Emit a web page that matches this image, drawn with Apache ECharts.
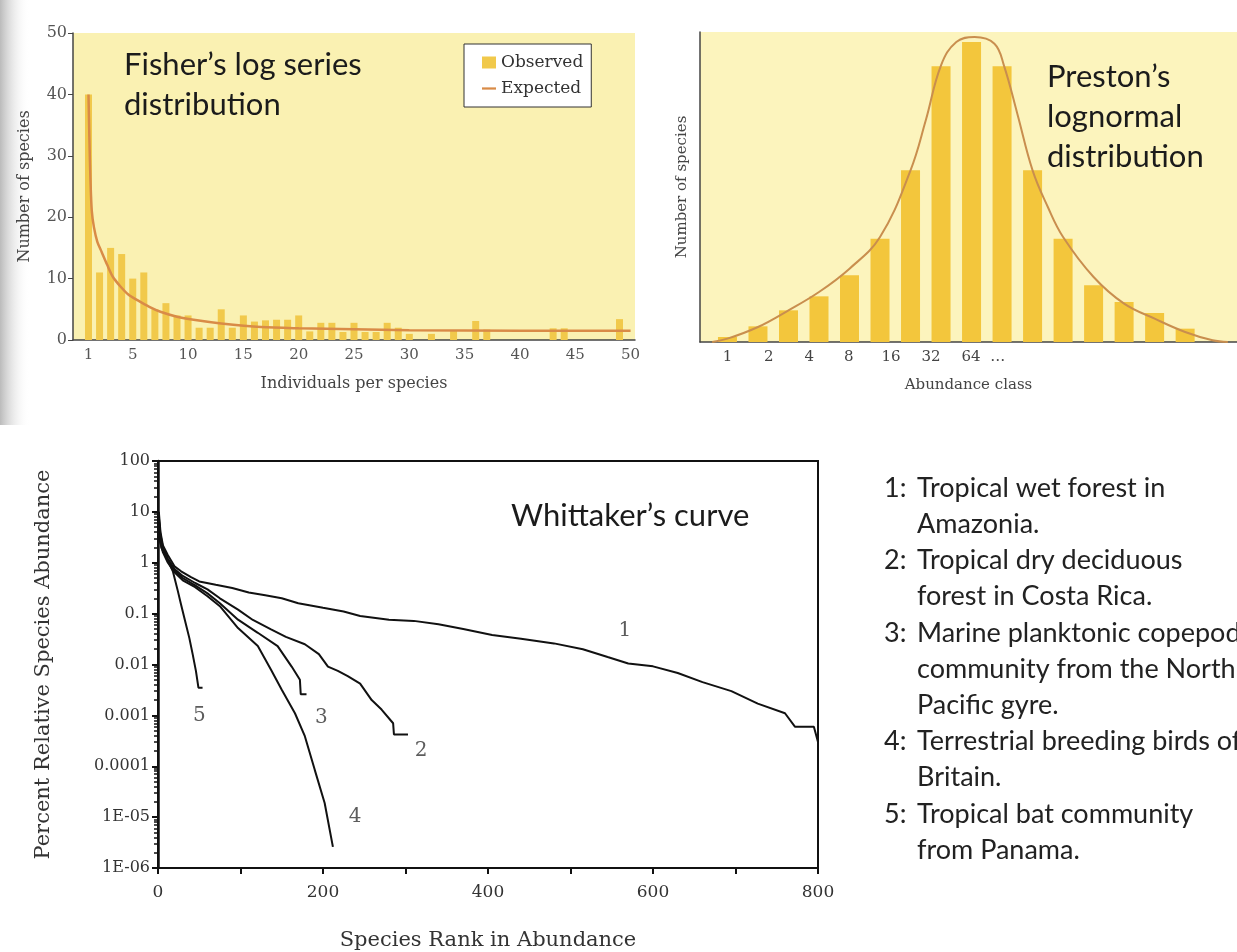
<!DOCTYPE html>
<html>
<head>
<meta charset="utf-8">
<title>Species abundance models</title>
<script src="https://cdn.jsdelivr.net/npm/echarts@6/dist/echarts.min.js"></script>
<style>
  html, body { margin: 0; padding: 0; background: #fff; }
  #main { width: 1237px; height: 952px; }
</style>
</head>
<body>
<div id="main"></div>
<script>
// ---- Fisher's log series ----
var fisherTicks = [1, 5, 10, 15, 20, 25, 30, 35, 40, 45, 50];
// number of species with 1..50 individuals
var fisherObserved = [40, 11, 15, 14, 10, 11, 5, 6, 4, 4,
                      2, 2, 5, 2, 4, 3, 3.2, 3.3, 3.3, 4,
                      1.4, 2.8, 2.8, 1.3, 2.8, 1.3, 1.3, 2.8, 2, 1,
                      0, 1, 0, 1.5, 0, 3.1, 1.7, 0, 0, 0,
                      0, 0, 1.9, 1.9, 0, 0, 0, 0, 3.4, 0];
var fisherExpectedX = [1, 1.08, 1.18, 1.3, 1.5, 1.8, 2.2, 2.7, 3.2, 3.8, 4.6, 5.5, 6.5, 7.5, 9, 10.5, 13, 16.6, 20, 25, 30, 40, 50];
var fisherExpectedY = [40, 33, 26, 21, 18.3, 16, 14.3, 12.2, 10.3, 8.9, 7.4, 6.4, 5.4, 4.6, 3.8, 3.3, 2.7, 2.1, 1.9, 1.75, 1.6, 1.5, 1.5];

// ---- Preston's lognormal ----
var prestonBars = [1.5, 4.7, 9.5, 13.7, 20, 31, 51.5, 82.7, 90, 82.7, 51.5, 31, 17, 12, 8.7, 4];
var prestonCurveX = [-0.5, 0, 1, 2, 3, 4, 5, 6, 6.5, 7, 7.5, 8.1, 8.75, 9.06, 9.5, 10, 10.5, 11, 12, 13, 14, 15, 15.9, 16.4];
var prestonCurveY = [0, 1, 4.5, 9.5, 15, 22, 31.5, 51.5, 66.5, 83, 90, 91.5, 89.5, 83, 68.5, 51.5, 40.5, 31.5, 19.5, 11.5, 7, 3, 0.5, 0];
var prestonTickPos = [0, 1.35, 2.68, 3.98, 5.36, 6.67, 7.98, 8.86];
var prestonTickLabels = ['1', '2', '4', '8', '16', '32', '64', '…'];

// ---- Whittaker's rank-abundance curves ----
var whittaker1 = [[1, 10], [3, 4], [6, 2.2], [12, 1.4], [20, 0.85], [28, 0.68], [40, 0.52], [50, 0.43], [70, 0.37],
  [90, 0.32], [110, 0.26], [130, 0.23], [150, 0.2], [170, 0.16], [200, 0.13], [225, 0.11], [245, 0.09],
  [280, 0.076], [310, 0.072], [340, 0.062], [370, 0.05], [405, 0.038], [440, 0.032], [480, 0.026],
  [515, 0.02], [545, 0.014], [570, 0.0105], [600, 0.0092], [630, 0.0068], [660, 0.0045], [695, 0.003],
  [727, 0.0017], [760, 0.0011], [772, 0.0006], [795, 0.0006], [800, 0.0003]];
var whittaker2 = [[1, 8], [3, 3.5], [6, 2], [12, 1.2], [20, 0.75], [30, 0.55], [45, 0.4], [60, 0.3], [75, 0.2],
  [97, 0.12], [115, 0.075], [137, 0.049], [155, 0.035], [178, 0.025], [195, 0.016], [206, 0.0091],
  [218, 0.0075], [230, 0.0059], [245, 0.0042], [259, 0.002], [271, 0.0013], [285, 0.0007],
  [286, 0.00042], [303, 0.00042]];
var whittaker3 = [[1, 5], [3, 2.8], [6, 1.8], [12, 1.1], [20, 0.7], [30, 0.5], [45, 0.36], [60, 0.25], [75, 0.16],
  [97, 0.076], [121, 0.042], [145, 0.023], [162, 0.0091], [172, 0.005], [173, 0.0026], [180, 0.0026]];
var whittaker4 = [[1, 3.2], [3, 2.4], [6, 1.6], [12, 1], [20, 0.65], [30, 0.45], [45, 0.33], [60, 0.22], [75, 0.14],
  [97, 0.052], [121, 0.023], [137, 0.0079], [150, 0.0032], [166, 0.0011], [178, 0.00039],
  [190, 0.000085], [202, 0.000019], [212, 0.0000026]];
var whittaker5 = [[1, 7], [4, 2], [12, 1.1], [18, 0.68], [24, 0.28], [28, 0.15], [33, 0.07], [38, 0.033],
  [42, 0.016], [46, 0.0074], [49, 0.0035], [54, 0.0035]];
var whittakerCurves = [whittaker1, whittaker2, whittaker3, whittaker4, whittaker5];
var whittakerTags = [[566, 0.045, '1'], [319, 0.0002, '2'], [198, 0.0009, '3'], [239, 0.00001, '4'], [50, 0.00096, '5']];
var whittakerYLabels = ['1E-06', '1E-05', '0.0001', '0.001', '0.01', '0.1', '1', '10', '100'];

var notes = [
  ['1:', 'Tropical wet forest in', 'Amazonia.'],
  ['2:', 'Tropical dry deciduous', 'forest in Costa Rica.'],
  ['3:', 'Marine planktonic copepod', 'community from the North', 'Pacific gyre.'],
  ['4:', 'Terrestrial breeding birds of', 'Britain.'],
  ['5:', 'Tropical bat community', 'from Panama.']
];

function zip(xs, ys){
  return xs.map(function(x, i){ return [x, ys[i]]; });
}

var numCol = [], textCol = [];
notes.forEach(function(n){
  n.slice(1).forEach(function(line, i){
    numCol.push(i === 0 ? n[0] : ' ');
    textCol.push(line);
  });
});

var serif = 'DejaVu Serif';
var sans = 'Lato';

var chart = echarts.init(document.getElementById('main'));

var option = {
  backgroundColor: '#ffffff',
  animation: false,
  graphic: [{
    type: 'rect',
    shape: { x: 0, y: 0, width: 30, height: 425 },
    style: {
      fill: new echarts.graphic.LinearGradient(0, 0, 1, 0, [
        { offset: 0, color: 'rgba(175,175,175,0.85)' },
        { offset: 1, color: 'rgba(255,255,255,0)' }
      ])
    },
    z: -10
  }],
  title: [
    { text: 'Fisher’s log series\ndistribution', left: 119, top: 40,
      textStyle: { fontFamily: sans, fontSize: 31, fontWeight: 'normal', color: '#1b1b1b', lineHeight: 40 } },
    { text: 'Preston’s\nlognormal\ndistribution', left: 1042, top: 52,
      textStyle: { fontFamily: sans, fontSize: 31, fontWeight: 'normal', color: '#1b1b1b', lineHeight: 40 } },
    { text: 'Whittaker’s curve', left: 506, top: 493,
      textStyle: { fontFamily: sans, fontSize: 31, fontWeight: 'normal', color: '#1b1b1b', lineHeight: 36 } },
    { text: numCol.join('\n'), left: 879, top: 465,
      textStyle: { fontFamily: sans, fontSize: 27, fontWeight: 'normal', color: '#222', lineHeight: 36.2 } },
    { text: textCol.join('\n'), left: 912, top: 465,
      textStyle: { fontFamily: sans, fontSize: 27, fontWeight: 'normal', color: '#222', lineHeight: 36.2 } }
  ],
  legend: {
    data: [{ name: 'Observed', icon: 'rect' }, { name: 'Expected', icon: 'path://M0,0 H10 V1.6 H0 Z' }],
    left: 464, top: 44,
    orient: 'vertical',
    backgroundColor: '#fff',
    borderColor: '#333',
    borderWidth: 1,
    borderRadius: 0,
    padding: [10, 8, 10, 18],
    itemGap: 9,
    itemWidth: 14,
    itemHeight: 12,
    textStyle: { fontFamily: serif, fontSize: 17, color: '#333' }
  },
  grid: [
    { left: 73, top: 33, width: 562, height: 307, show: true, backgroundColor: '#FAF1B2', borderWidth: 0 },
    { left: 700, top: 32, width: 537, height: 310, show: true, backgroundColor: '#FCF4BD', borderWidth: 0 },
    { left: 158, top: 461, width: 660, height: 408, show: true, backgroundColor: '#fff', borderColor: '#111', borderWidth: 2 }
  ],
  xAxis: [
    { gridIndex: 0, type: 'value', min: -0.4, max: 50.4,
      name: 'Individuals per species', nameLocation: 'middle', nameGap: 36,
      nameTextStyle: { fontFamily: serif, fontSize: 16, color: '#444' },
      axisLine: { onZero: false, lineStyle: { color: '#444', width: 1.5 } },
      axisTick: { show: false },
      splitLine: { show: false },
      axisLabel: { customValues: fisherTicks, fontFamily: serif, fontSize: 15, color: '#555', margin: 8 } },
    { gridIndex: 1, type: 'value', min: -0.9, max: 16.7,
      name: 'Abundance class', nameLocation: 'middle', nameGap: 36,
      nameTextStyle: { fontFamily: serif, fontSize: 15, color: '#444' },
      axisLine: { onZero: false, lineStyle: { color: '#444', width: 1.5 } },
      axisTick: { show: false },
      splitLine: { show: false },
      axisLabel: {
        customValues: prestonTickPos,
        fontFamily: serif, fontSize: 15, color: '#444', margin: 8,
        formatter: function(v){
          var best = 0;
          prestonTickPos.forEach(function(p, i){
            if (Math.abs(p - v) < Math.abs(prestonTickPos[best] - v)) best = i;
          });
          return prestonTickLabels[best];
        }
      } },
    { gridIndex: 2, type: 'value', min: 0, max: 800, interval: 100,
      name: 'Species Rank in Abundance', nameLocation: 'middle', nameGap: 62,
      nameTextStyle: { fontFamily: serif, fontSize: 21, color: '#333' },
      axisLine: { onZero: false, lineStyle: { color: '#111', width: 2 } },
      axisTick: { show: true, length: 6, lineStyle: { color: '#111', width: 2 } },
      splitLine: { show: false },
      axisLabel: { fontFamily: serif, fontSize: 17, color: '#333', margin: 16,
        formatter: function(v){ return v % 200 === 0 ? String(v) : ''; } } }
  ],
  yAxis: [
    { gridIndex: 0, type: 'value', min: 0, max: 50, interval: 10,
      name: 'Number of species', nameLocation: 'middle', nameGap: 40,
      nameTextStyle: { fontFamily: serif, fontSize: 16, color: '#444' },
      axisLine: { show: true, onZero: false, lineStyle: { color: '#444', width: 1.5 } },
      axisTick: { show: true, length: 5, lineStyle: { color: '#444' } },
      splitLine: { show: false },
      axisLabel: { fontFamily: serif, fontSize: 16, color: '#555', margin: 6 } },
    { gridIndex: 1, type: 'value', min: 0, max: 93,
      name: 'Number of species', nameLocation: 'middle', nameGap: 10,
      nameTextStyle: { fontFamily: serif, fontSize: 15, color: '#444' },
      axisLine: { show: true, onZero: false, lineStyle: { color: '#444', width: 1.5 } },
      axisTick: { show: false },
      splitLine: { show: false },
      axisLabel: { show: false } },
    { gridIndex: 2, type: 'log', logBase: 10, min: 1e-6, max: 100, interval: 1,
      name: 'Percent Relative Species Abundance', nameLocation: 'middle', nameGap: 104,
      nameTextStyle: { fontFamily: serif, fontSize: 21, color: '#333' },
      axisLine: { show: true, onZero: false, lineStyle: { color: '#111', width: 2.5 } },
      axisTick: { show: true, length: 6, lineStyle: { color: '#111', width: 2 } },
      minorTick: { show: true, splitNumber: 9, length: 4, lineStyle: { color: '#111', width: 1.5 } },
      splitLine: { show: false },
      axisLabel: { fontFamily: serif, fontSize: 16, color: '#333', margin: 8,
        formatter: function(v){ return whittakerYLabels[Math.round(Math.log10(v)) + 6]; } } }
  ],
  series: [
    { name: 'Observed', type: 'bar', xAxisIndex: 0, yAxisIndex: 0, barWidth: 7,
      itemStyle: { color: '#F1C94B' },
      data: fisherObserved.map(function(v, i){ return [i + 1, v]; }) },
    { name: 'Expected', type: 'line', xAxisIndex: 0, yAxisIndex: 0, smooth: 0.3,
      symbol: 'none', lineStyle: { color: '#D98B47', width: 2.5 }, itemStyle: { color: '#D98B47' },
      data: zip(fisherExpectedX, fisherExpectedY) },
    { name: 'Preston observed', type: 'bar', xAxisIndex: 1, yAxisIndex: 1, barWidth: 19,
      itemStyle: { color: '#F3C63C' },
      data: prestonBars.map(function(v, i){ return [i, v]; }) },
    { name: 'Preston expected', type: 'line', xAxisIndex: 1, yAxisIndex: 1, smooth: 0.4,
      symbol: 'none', lineStyle: { color: '#C98E4E', width: 2 },
      data: zip(prestonCurveX, prestonCurveY) }
  ].concat(whittakerCurves.map(function(c, i){
    return { name: 'Curve ' + (i + 1), type: 'line', xAxisIndex: 2, yAxisIndex: 2,
      symbol: 'none', lineStyle: { color: '#111', width: 2 }, data: c };
  })).concat([{
    name: 'Curve labels', type: 'scatter', xAxisIndex: 2, yAxisIndex: 2, symbolSize: 0,
    label: { show: true, position: 'inside', fontFamily: serif, fontSize: 20, color: '#333',
      formatter: function(p){ return p.value[2]; } },
    data: whittakerTags
  }])
};

chart.setOption(option);
</script>
</body>
</html>
